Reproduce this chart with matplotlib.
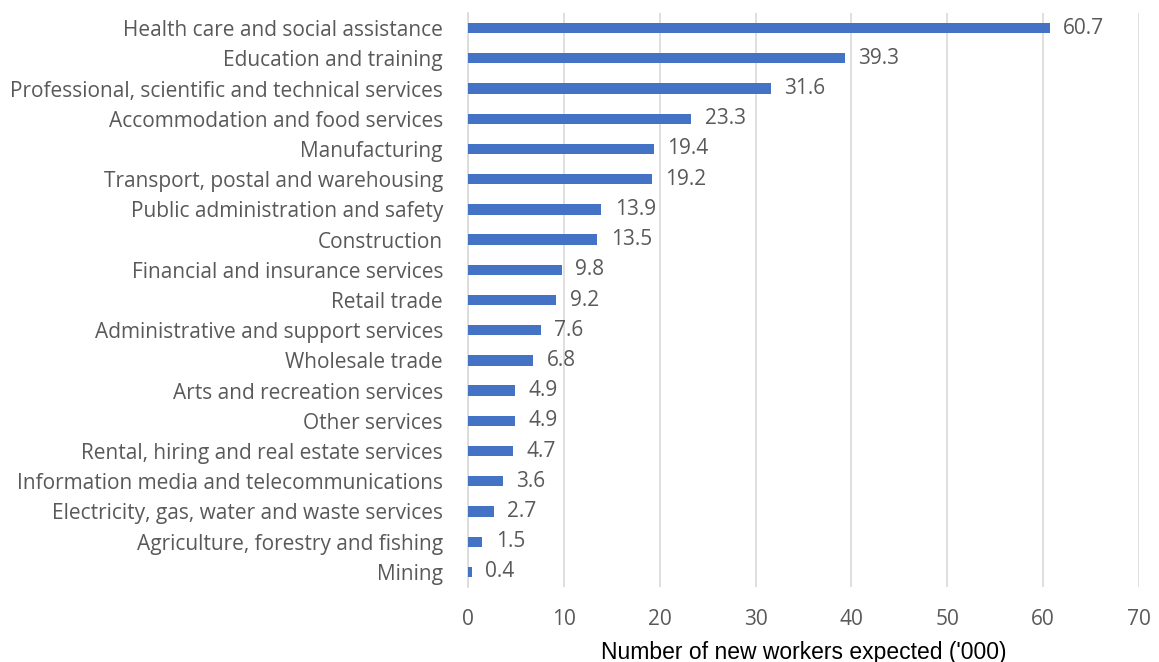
import matplotlib
matplotlib.use("Agg")
import matplotlib.pyplot as plt

categories = [
    "Health care and social assistance",
    "Education and training",
    "Professional, scientific and technical services",
    "Accommodation and food services",
    "Manufacturing",
    "Transport, postal and warehousing",
    "Public administration and safety",
    "Construction",
    "Financial and insurance services",
    "Retail trade",
    "Administrative and support services",
    "Wholesale trade",
    "Arts and recreation services",
    "Other services",
    "Rental, hiring and real estate services",
    "Information media and telecommunications",
    "Electricity, gas, water and waste services",
    "Agriculture, forestry and fishing",
    "Mining",
]
values = [60.7, 39.3, 31.6, 23.3, 19.4, 19.2, 13.9, 13.5, 9.8, 9.2,
          7.6, 6.8, 4.9, 4.9, 4.7, 3.6, 2.7, 1.5, 0.4]
x_ticks = [0, 10, 20, 30, 40, 50, 60, 70]

text_color = "#595959"
bar_color = "#4472C4"
fsize = 15

fig = plt.figure(figsize=(11.59, 6.62), dpi=100)
ax = fig.add_axes([468 / 1159, 1 - 587 / 662, (1139 - 468) / 1159, (587 - 13) / 662])

ypos = list(range(len(categories)))
ax.barh(ypos, values, height=0.34, color=bar_color, zorder=3)
for y, v in zip(ypos, values):
    ax.text(v + 1.4, y, f"{v}", va="center", ha="left", fontsize=fsize,
            color=text_color, family="Open Sans")

ax.set_ylim(len(categories) - 0.5, -0.5)
ax.set_xlim(0, 70)
ax.set_xticks(x_ticks)
ax.set_yticks(ypos)
ax.set_yticklabels(categories, fontsize=fsize, color=text_color, family="Open Sans")
ax.tick_params(axis="y", length=0, pad=18)
ax.tick_params(axis="x", length=0, pad=15.5, labelsize=fsize, labelcolor=text_color)
for lbl in ax.get_xticklabels():
    lbl.set_family("Open Sans")

ax.grid(axis="x", color="#D9D9D9", linewidth=1.2, zorder=0)
for side in ["top", "right", "bottom"]:
    ax.spines[side].set_visible(False)
ax.spines["left"].set_color("#D9D9D9")
ax.spines["left"].set_linewidth(1.2)

ax.set_xlabel("Number of new workers expected ('000)", fontsize=16.5,
              family="Liberation Sans", color="#000000", labelpad=8)

fig.savefig("out.png", dpi=100)
